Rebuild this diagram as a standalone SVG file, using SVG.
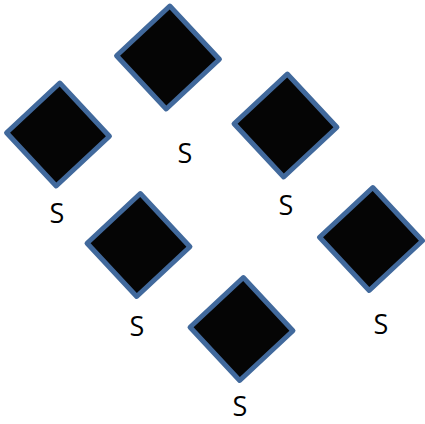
<svg xmlns="http://www.w3.org/2000/svg" width="425" height="424" viewBox="0 0 425 424">
<style>
.d{fill:#050505;stroke:#41699c;stroke-width:5;stroke-linejoin:round}
.t{font-family:"Open Sans",sans-serif;font-size:27px;fill:#000;text-anchor:middle}
</style>
<defs>
<rect id="dm" class="d" x="-36.4" y="-36.4" width="72.8" height="72.8" transform="rotate(47)"/>
</defs>
<rect width="425" height="424" fill="#fff"/>
<g id="n1"><use href="#dm" transform="translate(168,57.5)"/><text class="t" x="185" y="163">S</text></g>
<g id="n2"><use href="#dm" transform="translate(58,134.5)"/><text class="t" x="57" y="223">S</text></g>
<g id="n3"><use href="#dm" transform="translate(285.5,125.5)"/><text class="t" x="286" y="215">S</text></g>
<g id="n4"><use href="#dm" transform="translate(138.5,245)"/><text class="t" x="137" y="336">S</text></g>
<g id="n5"><use href="#dm" transform="translate(371,239)"/><text class="t" x="381" y="334">S</text></g>
<g id="n6"><use href="#dm" transform="translate(241.5,329)"/><text class="t" x="240" y="416">S</text></g>
</svg>
